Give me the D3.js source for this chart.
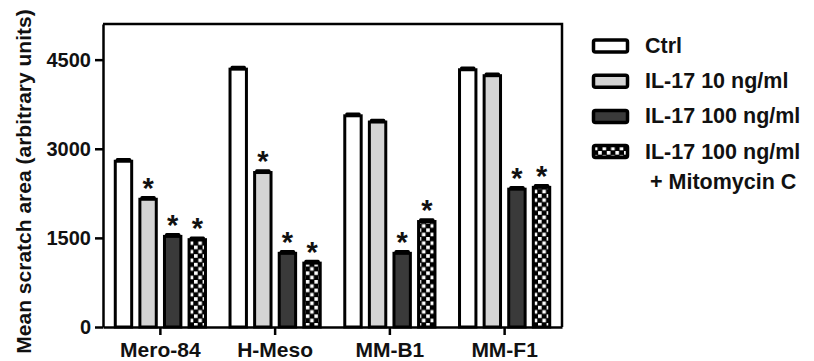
<!DOCTYPE html>
<html>
<head>
<meta charset="utf-8">
<script src="https://cdn.jsdelivr.net/npm/d3@7"></script>
<style>
  html, body { margin: 0; padding: 0; background: #fff; }
  text { font-family: "Liberation Sans", Arial, sans-serif; font-weight: bold; fill: #111; }
</style>
</head>
<body>
<svg id="chart" width="814" height="361"></svg>
<script>
// ---- data ----
const categories = ["Mero-84", "H-Meso", "MM-B1", "MM-F1"];
const seriesNames = ["Ctrl", "IL-17 10 ng/ml", "IL-17 100 ng/ml", "IL-17 100 ng/ml"];
const seriesNameLine2 = ["", "", "", "+ Mitomycin C"];
const ctrl   = [2790, 4340, 3555, 4330];
const il10   = [2150, 2600, 3450, 4230];
const il100  = [1525, 1240, 1240, 2320];
const il100M = [1470, 1075, 1775, 2350];
const errCtrl   = [30, 30, 30, 30];
const errIl10   = [30, 30, 30, 30];
const errIl100  = [30, 30, 30, 30];
const errIl100M = [30, 30, 30, 30];
const sigCtrl   = [false, false, false, false];
const sigIl10   = [true, true, false, false];
const sigIl100  = [true, true, true, true];
const sigIl100M = [true, true, true, true];
const yTicks = [0, 1500, 3000, 4500];
const yMax = 5100;
const yTitle = "Mean scratch area (arbitrary units)";

const seriesValues = [ctrl, il10, il100, il100M];
const seriesErr = [errCtrl, errIl10, errIl100, errIl100M];
const seriesSig = [sigCtrl, sigIl10, sigIl100, sigIl100M];

// ---- layout ----
const svg = d3.select("#chart");
const mLeft = 103, mRight = 562, mTop = 24, mBottom = 327;
const fills = ["#ffffff", "#d4d4d4", "#3a3a3a", "url(#checker)"];

const defs = svg.append("defs");
const pat = defs.append("pattern").attr("id", "checker")
  .attr("patternUnits", "userSpaceOnUse").attr("width", 8.6).attr("height", 8.6);
pat.append("rect").attr("width", 8.6).attr("height", 8.6).attr("fill", "#000");
pat.append("rect").attr("x", 0.5).attr("y", 0.5).attr("width", 3.6).attr("height", 3.6).attr("fill", "#fff");
pat.append("rect").attr("x", 4.8).attr("y", 4.8).attr("width", 3.6).attr("height", 3.6).attr("fill", "#fff");

const x = d3.scaleBand().domain(categories).range([mLeft, mRight]).padding(0);
const xs = d3.scaleBand().domain(d3.range(4)).range([-49.2, 49.2])
  .paddingInner(0.3333).paddingOuter(0.1667);
const y = d3.scaleLinear().domain([0, yMax]).range([mBottom, mTop]);

// frame (top + right)
svg.append("path")
  .attr("d", `M${mLeft},${mTop}H${mRight}V${mBottom}`)
  .attr("fill", "none").attr("stroke", "#000").attr("stroke-width", 2.5);

// bars
const rows = [];
categories.forEach((c, ci) => {
  seriesValues.forEach((vals, si) => {
    rows.push({ c, si, v: vals[ci], e: seriesErr[si][ci], sig: seriesSig[si][ci] });
  });
});

const g = svg.append("g");
const bx = d => x(d.c) + x.bandwidth() / 2 + xs(d.si);
const bw = xs.bandwidth();

g.selectAll("rect.bar").data(rows).join("rect")
  .attr("class", "bar")
  .attr("x", bx)
  .attr("y", d => y(d.v))
  .attr("width", bw)
  .attr("height", d => y(0) - y(d.v))
  .attr("fill", d => fills[d.si])
  .attr("stroke", "#000")
  .attr("stroke-width", 3);

// error bars (upper)
g.selectAll("line.err").data(rows).join("line")
  .attr("class", "err")
  .attr("x1", d => bx(d) + bw / 2).attr("x2", d => bx(d) + bw / 2)
  .attr("y1", d => y(d.v)).attr("y2", d => y(d.v + d.e))
  .attr("stroke", "#000").attr("stroke-width", 3);
g.selectAll("line.cap").data(rows).join("line")
  .attr("class", "cap")
  .attr("x1", d => bx(d) + 2).attr("x2", d => bx(d) + bw - 2)
  .attr("y1", d => y(d.v + d.e)).attr("y2", d => y(d.v + d.e))
  .attr("stroke", "#000").attr("stroke-width", 3).attr("stroke-linecap", "round");

// significance stars
g.selectAll("text.star").data(rows.filter(d => d.sig)).join("text")
  .attr("class", "star")
  .attr("x", d => bx(d) + bw / 2)
  .attr("y", d => y(d.v + d.e) + 0.5)
  .attr("text-anchor", "middle")
  .attr("font-size", 29)
  .text("*");

// axes
const yAxis = d3.axisLeft(y).tickValues(yTicks).tickFormat(d3.format("d"))
  .tickSize(8).tickPadding(4).tickSizeOuter(0);
const ya = svg.append("g").attr("transform", `translate(${mLeft},0)`).call(yAxis);
ya.selectAll("path, line").attr("stroke", "#000").attr("stroke-width", 2.5);
ya.selectAll("text").attr("font-size", 20).style("font-family", '"Liberation Sans", Arial, sans-serif')
  .style("font-weight", "bold").attr("fill", "#111");

const xAxis = d3.axisBottom(x).tickSize(8).tickPadding(7).tickSizeOuter(0);
const xa = svg.append("g").attr("transform", `translate(0,${mBottom})`).call(xAxis);
xa.selectAll("path, line").attr("stroke", "#000").attr("stroke-width", 2.5);
xa.selectAll("text").attr("font-size", 21).style("font-family", '"Liberation Sans", Arial, sans-serif')
  .style("font-weight", "bold").attr("fill", "#111");

// y title
svg.append("text")
  .attr("transform", "translate(31,181.5) rotate(-90)")
  .attr("text-anchor", "middle")
  .attr("font-size", 21)
  .text(yTitle);

// legend
const lg = svg.append("g");
seriesNames.forEach((name, i) => {
  const t = 38.5 + i * 35.2;
  lg.append("rect")
    .attr("x", 593.5).attr("y", t + 1.5).attr("width", 34).attr("height", 12)
    .attr("rx", 2)
    .attr("fill", fills[i]).attr("stroke", "#000").attr("stroke-width", 3.5);
  lg.append("text").attr("x", 645).attr("y", t + 14.5).attr("font-size", 21.5).text(name);
  if (seriesNameLine2[i]) {
    lg.append("text").attr("x", 650).attr("y", t + 14.5 + 30.5).attr("font-size", 21.5).text(seriesNameLine2[i]);
  }
});
</script>
</body>
</html>
